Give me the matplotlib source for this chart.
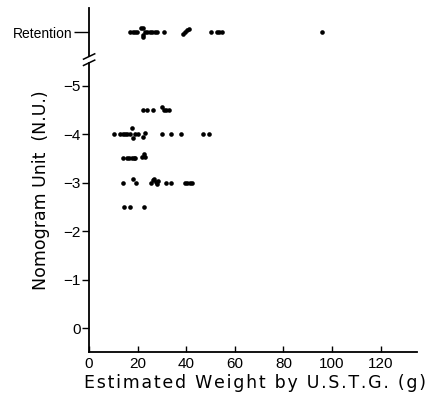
import matplotlib
matplotlib.use("Agg")
import matplotlib.pyplot as plt

# Nomogram unit levels (plotted as positive height; labelled with minus sign)
lvl45_x = [22.3, 23.7, 26.2, 30.2, 30.8, 31.6, 33.0]
lvl45_y = [4.5, 4.5, 4.5, 4.56, 4.5, 4.5, 4.5]

lvl4_x = [10.2, 12.8, 13.8, 14.8, 15.8, 16.8, 17.5, 18.2, 18.8, 20.0, 22.3, 23.0, 30.0, 33.6, 38.0, 46.7, 49.4]
lvl4_y = [4.0, 4.0, 4.0, 4.0, 4.0, 4.0, 4.12, 3.93, 4.0, 4.0, 3.95, 4.03, 4.0, 4.0, 4.0, 4.0, 4.0]

lvl35_x = [13.8, 15.8, 16.6, 17.5, 18.3, 19.0, 21.8, 22.6, 23.2]
lvl35_y = [3.5, 3.5, 3.5, 3.5, 3.5, 3.5, 3.52, 3.6, 3.52]

lvl3_x = [14.1, 18.2, 19.3, 25.5, 26.2, 26.8, 27.4, 28.0, 28.5, 31.6, 33.6, 39.5, 40.5, 41.5, 42.5]
lvl3_y = [3.0, 3.08, 3.0, 3.0, 3.05, 3.08, 3.02, 2.98, 3.03, 3.0, 3.0, 3.0, 3.0, 3.0, 3.0]

lvl25_x = [14.4, 16.8, 22.6]
lvl25_y = [2.5, 2.5, 2.5]

ret_x = [17.0, 18.0, 19.0, 19.8, 21.5, 22.2, 22.2, 22.8, 22.0, 24.0, 25.0, 26.0, 27.0, 28.0,
         31.0, 38.8, 39.6, 40.4, 41.0, 50.0, 52.5, 53.5, 54.5, 96.0]
ret_dy = [0, 0, 0, 0, 0.08, 0.09, -0.05, 0, -0.1, 0, 0, 0, 0, 0,
          0, -0.04, 0, 0.04, 0.07, 0, 0, 0, 0, 0]
RET_POS = 6.1

y_ticks = [0, 1, 2, 3, 4, 5]
y_ticklabels = ["0", "\u22121", "\u22122", "\u22123", "\u22124", "\u22125"]
x_ticks = [0, 20, 40, 60, 80, 100, 120]

plt.rcParams['font.family'] = ['Liberation Sans', 'DejaVu Sans']

fig = plt.figure(figsize=(4.39, 3.99), dpi=100)
ax = fig.add_axes([0.203, 0.118, 0.747, 0.862])

ms = 11
for xs, ys in [(lvl45_x, lvl45_y), (lvl4_x, lvl4_y), (lvl35_x, lvl35_y),
               (lvl3_x, lvl3_y), (lvl25_x, lvl25_y)]:
    ax.scatter(xs, ys, s=ms, c='black', linewidths=0)
ax.scatter(ret_x, [RET_POS + d for d in ret_dy], s=ms, c='black', linewidths=0)

ax.set_xlim(0, 135)
ax.set_ylim(-0.49, 6.6)

ax.set_xticks(x_ticks)
ax.set_xticklabels([str(v) for v in x_ticks], fontsize=11)
ax.set_yticks(y_ticks)
ax.set_yticklabels(y_ticklabels, fontsize=11)
ax.set_yticks([RET_POS], minor=True)
ax.set_yticklabels(["Retention"], minor=True, fontsize=10)

ax.tick_params(axis='x', direction='in', length=4, width=1, pad=4)
ax.tick_params(axis='y', which='major', direction='out', length=5, width=1, pad=1)
ax.tick_params(axis='y', which='minor', direction='out', length=11, width=1, pad=1)

for s in ['top', 'right', 'left']:
    ax.spines[s].set_visible(False)
ax.spines['bottom'].set_linewidth(1.3)

# broken left axis
y_low_top = 5.47
y_up_bot = 5.6
ax.plot([0, 0], [-0.49, y_low_top], color='black', lw=1.3, clip_on=False)
ax.plot([0, 0], [y_up_bot, 6.6], color='black', lw=1.3, clip_on=False)
for yb in [y_low_top, y_up_bot]:
    ax.plot([-2.3, 2.3], [yb - 0.055, yb + 0.055], color='black', lw=1.1, clip_on=False)

hs = "\u200a"
xlabel = hs.join("Estimated Weight by U.S.T.G. (g)")
ax.set_xlabel(xlabel, fontsize=12.5, labelpad=2, family=['DejaVu Sans'])
ax.set_ylabel("Nomogram Unit  (N.U.)", fontsize=12.5, labelpad=6,
              family=['DejaVu Sans'])
ax.yaxis.set_label_coords(-0.12, 0.47)
ax.xaxis.set_label_coords(0.505, -0.065)

fig.savefig("out.png", dpi=100)
